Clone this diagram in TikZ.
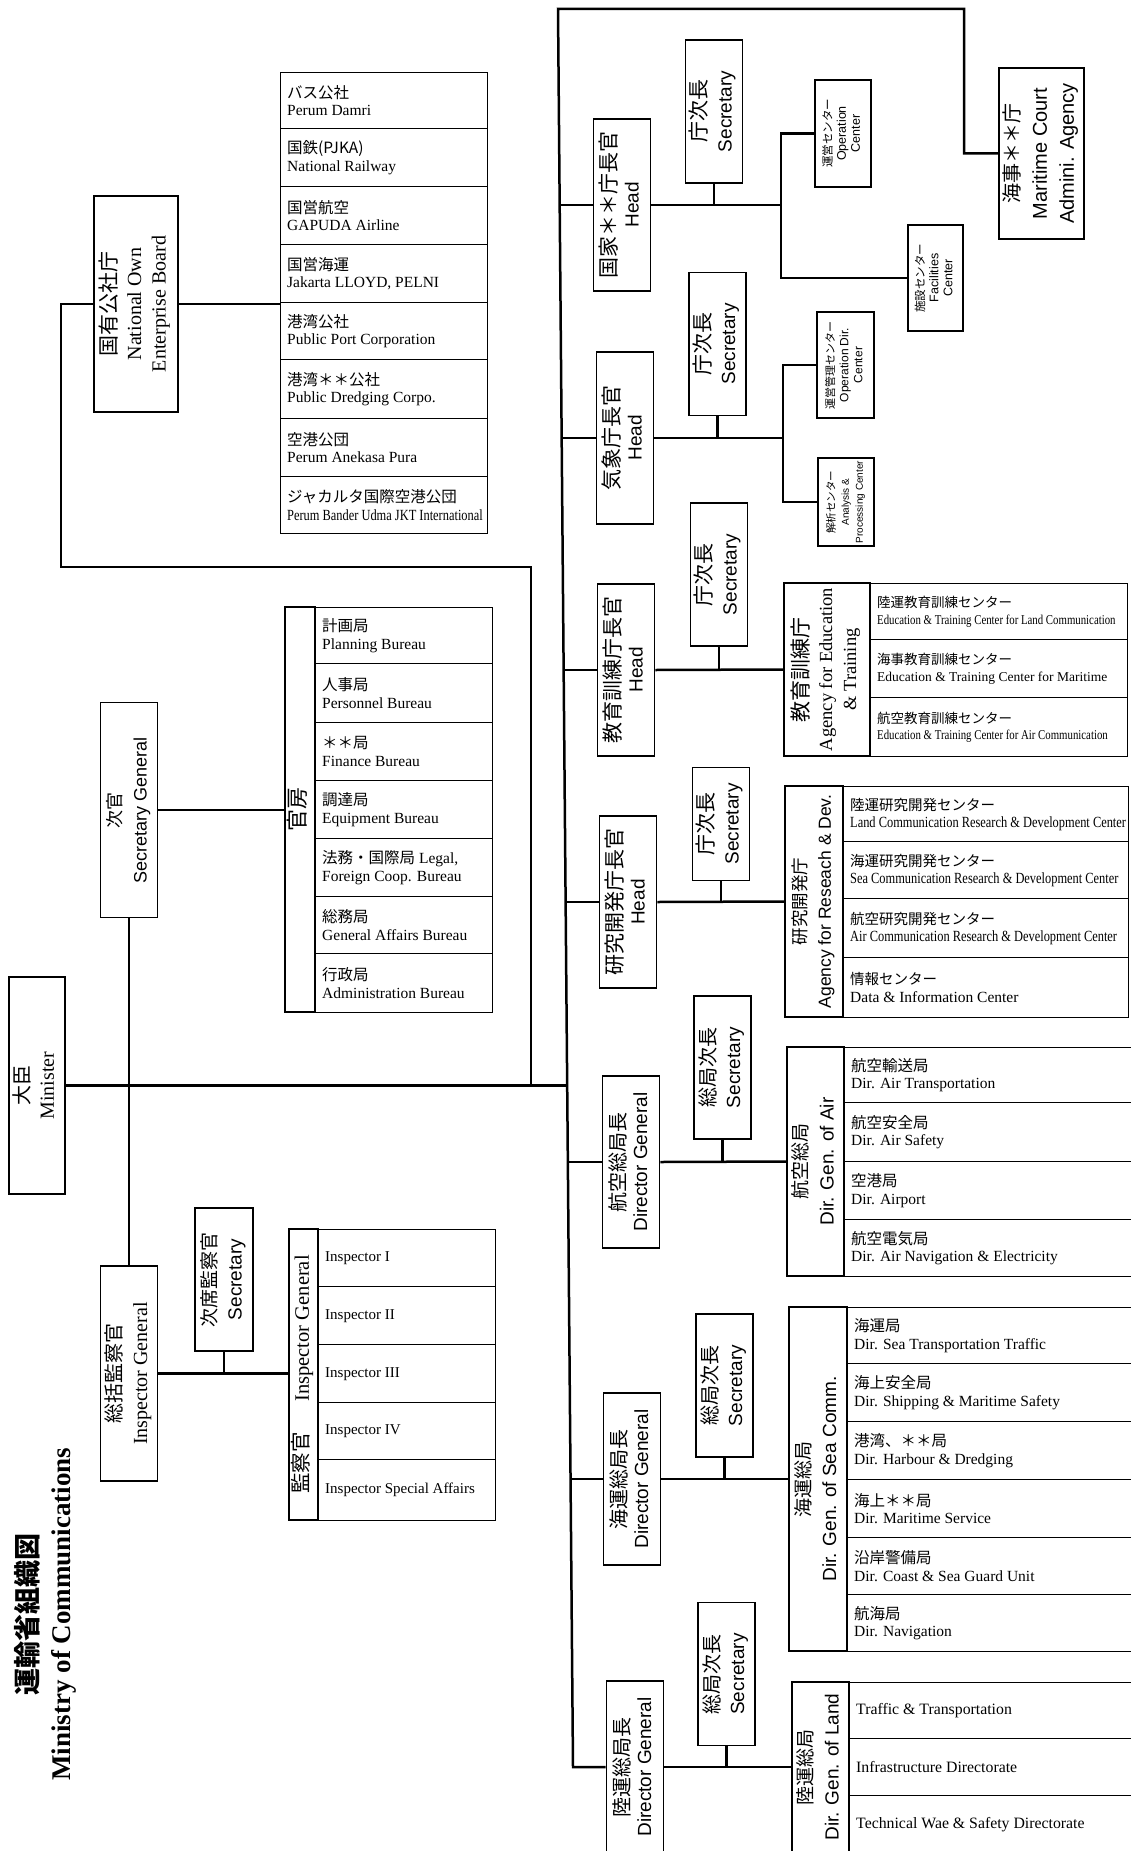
\documentclass[tikz,border=0pt]{standalone}
\usepackage{fontspec}
\usepackage{graphicx}
\setmainfont{Liberation Serif}
\setsansfont{Liberation Sans}
\newfontfamily\jp{Noto Sans CJK JP}
\newfontfamily\cond{Liberation Serif}[FakeStretch=0.8]
\newcommand{\fsz}[2]{\fontsize{#1}{#2}\selectfont}
\newcommand{\rtx}[2]{\rotatebox{90}{#1\begin{tabular}{@{}c@{}}#2\end{tabular}}}
\newcommand{\rowbox}[5]{\node[rw, minimum width=#4, minimum height=#5] (#1) at (#2,#3) {};}
\newcommand{\rowtxt}[3]{\node[rt, font=#2] (#1t) at ([xshift=7pt]#1.west) {#3};}
\newcommand{\lf}{\fsz{15.5}{17.5}}
\tikzset{
 bx/.style={draw, line width=1.8pt, inner sep=0pt},
 rw/.style={draw, line width=1.4pt, inner sep=0pt, anchor=north west},
 rt/.style={inner sep=0pt, anchor=west, align=left},
 conn/.style={line width=2.5pt},
 hd/.style={bx, minimum width=57, minimum height=172},
 sc/.style={bx, minimum width=57, minimum height=143},
}
\begin{document}
\begin{tikzpicture}[x=1pt,y=-1pt]
\fill[white] (0,0) rectangle (1130,1851);
\useasboundingbox (0,0) rectangle (1130,1851);

% ---------- title
\node[inner sep=0pt] (title) at (47,1614) {\rtx{\fsz{27}{33}\bfseries}{{\jp 運輸省組織図}\\Ministry of Communications}};

% ---------- left part
\node[bx, minimum width=84, minimum height=216] (noeb) at (136,304) {\rtx{\fsz{20}{24.5}}{{\jp\fsz{21}{24.5}国有公社庁}\\National Own\\Enterprise Board}};
\rowbox{L1}{280}{72}{207}{56}
\rowbox{L2}{280}{128}{207}{58}
\rowbox{L3}{280}{186}{207}{58}
\rowbox{L4}{280}{244}{207}{58}
\rowbox{L5}{280}{302}{207}{57}
\rowbox{L6}{280}{359}{207}{59}
\rowbox{L7}{280}{418}{207}{58}
\rowbox{L8}{280}{476}{207}{57}
\rowtxt{L1}{\lf}{{\jp バス公社}\\Perum Damri}
\rowtxt{L2}{\lf}{{\jp 国鉄(PJKA)}\\National Railway}
\rowtxt{L3}{\lf}{{\jp 国営航空}\\GAPUDA Airline}
\rowtxt{L4}{\lf}{{\jp 国営海運}\\Jakarta LLOYD, PELNI}
\rowtxt{L5}{\lf}{{\jp 港湾公社}\\Public Port Corporation}
\rowtxt{L6}{\lf}{{\jp 港湾＊＊公社}\\Public Dredging Corpo.}
\rowtxt{L7}{\lf}{{\jp 空港公団}\\Perum Anekasa Pura}
\rowtxt{L8}{\lf}{{\jp ジャカルタ国際空港公団}\\{\cond Perum Bander Udma JKT International}}

\node[bx, minimum width=57, minimum height=215] (sg) at (129,810) {\rtx{\fsz{18}{25}\sffamily}{{\jp 次官}\\Secretary General}};
\node[bx, minimum width=30, minimum height=405] (bl) at (300,809.5) {\rtx{\fsz{22}{24}}{\jp 官房}};
\rowbox{B1}{315}{607}{177}{56}
\rowbox{B2}{315}{663}{177}{59}
\rowbox{B3}{315}{722}{177}{58}
\rowbox{B4}{315}{780}{177}{58}
\rowbox{B5}{315}{838}{177}{58}
\rowbox{B6}{315}{896}{177}{57}
\rowbox{B7}{315}{953}{177}{59}
\rowtxt{B1}{\lf}{{\jp 計画局}\\Planning Bureau}
\rowtxt{B2}{\lf}{{\jp 人事局}\\Personnel Bureau}
\rowtxt{B3}{\lf}{{\jp ＊＊局}\\Finance Bureau}
\rowtxt{B4}{\lf}{{\jp 調達局}\\Equipment Bureau}
\rowtxt{B5}{\lf}{{\jp 法務・国際局} Legal,\\Foreign Coop. Bureau}
\rowtxt{B6}{\lf}{{\jp 総務局}\\General Affairs Bureau}
\rowtxt{B7}{\lf}{{\jp 行政局}\\Administration Bureau}

\node[bx, minimum width=56, minimum height=217] (min) at (37,1085.5) {\rtx{\fsz{20}{24}}{{\jp 大臣}\\Minister}};
\node[bx, minimum width=57, minimum height=215] (ig) at (129,1373.5) {\rtx{\fsz{20}{26}}{{\jp 総括監察官}\\Inspector General}};
\node[bx, minimum width=58, minimum height=143] (sig) at (224,1279.5) {\rtx{\fsz{19}{25}\sffamily}{{\jp 次席監察官}\\Secretary}};
\node[bx, minimum width=29, minimum height=291] (il) at (303.5,1374.5) {\rtx{\fsz{20.5}{22}}{{\jp 監察官}\hspace{1.5em}Inspector General}};
\rowbox{I1}{318}{1229}{177}{57}
\rowbox{I2}{318}{1286}{177}{58}
\rowbox{I3}{318}{1344}{177}{58}
\rowbox{I4}{318}{1402}{177}{57}
\rowbox{I5}{318}{1459}{177}{61}
\rowtxt{I1}{\fsz{15}{17}}{Inspector I}
\rowtxt{I2}{\fsz{15}{17}}{Inspector II}
\rowtxt{I3}{\fsz{15}{17}}{Inspector III}
\rowtxt{I4}{\fsz{15}{17}}{Inspector IV}
\rowtxt{I5}{\fsz{15}{17}}{Inspector Special Affairs}

% ---------- right part: heads
\node[hd] (h1) at (622,205) {\rtx{\fsz{19}{22}\sffamily}{{\jp\fsz{21}{22}国家＊＊庁長官}\\Head}};
\node[hd] (h2) at (625,438) {\rtx{\fsz{19}{22}\sffamily}{{\jp\fsz{21}{22}気象庁長官}\\Head}};
\node[hd] (h3) at (626,670) {\rtx{\fsz{19}{22}\sffamily}{{\jp\fsz{21}{22}教育訓練庁長官}\\Head}};
\node[hd] (h4) at (628,902) {\rtx{\fsz{19}{22}\sffamily}{{\jp\fsz{21}{22}研究開発庁長官}\\Head}};
\node[hd] (h5) at (631,1162) {\rtx{\fsz{19}{22}\sffamily}{{\jp\fsz{20}{22}航空総局長}\\Director General}};
\node[hd] (h6) at (632,1479) {\rtx{\fsz{19}{22}\sffamily}{{\jp\fsz{20}{22}海運総局長}\\Director General}};
\node[hd] (h7) at (635,1767) {\rtx{\fsz{19}{22}\sffamily}{{\jp\fsz{20}{22}陸運総局長}\\Director General}};

% secretaries
\node[sc] (s1) at (714,111.5) {\rtx{\fsz{19}{25}\sffamily}{{\jp\fsz{21}{25}庁次長}\\Secretary}};
\node[sc] (s2) at (717.5,344) {\rtx{\fsz{19}{25}\sffamily}{{\jp\fsz{21}{25}庁次長}\\Secretary}};
\node[sc] (s3) at (719,574.5) {\rtx{\fsz{19}{25}\sffamily}{{\jp\fsz{21}{25}庁次長}\\Secretary}};
\node[sc, minimum height=113] (s4) at (721,824) {\rtx{\fsz{19}{25}\sffamily}{{\jp\fsz{21}{25}庁次長}\\Secretary}};
\node[sc] (s5) at (722.5,1067.5) {\rtx{\fsz{19}{25}\sffamily}{{\jp\fsz{20}{25}総局次長}\\Secretary}};
\node[sc] (s6) at (724.5,1385.5) {\rtx{\fsz{19}{25}\sffamily}{{\jp\fsz{20}{25}総局次長}\\Secretary}};
\node[sc] (s7) at (726.5,1674) {\rtx{\fsz{19}{25}\sffamily}{{\jp\fsz{20}{25}総局次長}\\Secretary}};

% small centers
\node[bx, minimum width=56, minimum height=107] (op1) at (843,133.5) {\rtx{\fsz{12.5}{14}\sffamily}{{\jp\fsz{11.5}{14}運営センター}\\Operation\\Center}};
\node[bx, minimum width=55, minimum height=106] (fc1) at (935.5,278) {\rtx{\fsz{12.5}{14}\sffamily}{{\jp\fsz{11.5}{14}施設センター}\\Facilities\\Center}};
\node[bx, minimum width=57, minimum height=106] (od2) at (845.5,365) {\rtx{\fsz{12}{14}\sffamily}{{\jp\fsz{11}{14}運営管理センター}\\Operation Dir.\\Center}};
\node[bx, minimum width=56, minimum height=88] (an2) at (846,502) {\rtx{\fsz{10}{14}\sffamily}{{\jp\fsz{10.5}{14}解析センター}\\Analysis \&\\Processing Center}};
\node[bx, minimum width=85, minimum height=171] (mar) at (1041.5,153.5) {\rtx{\fsz{20}{27}\sffamily}{{\jp 海事＊＊庁}\\Maritime Court\\Admini. Agency}};

% education
\node[bx, minimum width=86, minimum height=173] (ed) at (827,669.5) {\rtx{\fsz{18.5}{24}}{{\jp\fsz{21}{24}教育訓練庁}\\Agency for Education\\\& Training}};
\rowbox{E1}{870}{583}{257}{56}
\rowbox{E2}{870}{639}{257}{58}
\rowbox{E3}{870}{697}{257}{59}
\rowtxt{E1}{\fsz{13.5}{16.5}}{{\jp 陸運教育訓練センター}\\{\cond Education \& Training Center for Land Communication}}
\rowtxt{E2}{\fsz{13.5}{16.5}}{{\jp 海事教育訓練センター}\\Education \& Training Center for Maritime}
\rowtxt{E3}{\fsz{13.5}{16.5}}{{\jp 航空教育訓練センター}\\{\cond Education \& Training Center for Air Communication}}

% research
\node[bx, minimum width=58, minimum height=231] (rd) at (814,901.5) {\rtx{\fsz{17.5}{24}\sffamily}{{\jp 研究開発庁}\\Agency for Reseach \& Dev.}};
\rowbox{R1}{843}{786}{285}{55}
\rowbox{R2}{843}{841}{285}{57}
\rowbox{R3}{843}{898}{285}{59}
\rowbox{R4}{843}{957}{285}{60}
\rowtxt{R1}{\fsz{15.5}{17}}{{\jp\fsz{14.5}{17}陸運研究開発センター}\\{\cond Land Communication Research \& Development Center}}
\rowtxt{R2}{\fsz{15.5}{17}}{{\jp\fsz{14.5}{17}海運研究開発センター}\\{\cond Sea Communication Research \& Development Center}}
\rowtxt{R3}{\fsz{15.5}{17}}{{\jp\fsz{14.5}{17}航空研究開発センター}\\{\cond Air Communication Research \& Development Center}}
\rowtxt{R4}{\lf}{{\jp\fsz{14.5}{17}情報センター}\\Data \& Information Center}

% air
\node[bx, minimum width=57, minimum height=229] (ai) at (815.5,1161.5) {\rtx{\fsz{19}{26}\sffamily}{{\jp 航空総局}\\Dir. Gen. of Air}};
\rowbox{A1}{844}{1047}{292}{55}
\rowbox{A2}{844}{1102}{292}{59}
\rowbox{A3}{844}{1161}{292}{58}
\rowbox{A4}{844}{1219}{292}{57}
\rowtxt{A1}{\lf}{{\jp 航空輸送局}\\Dir. Air Transportation}
\rowtxt{A2}{\lf}{{\jp 航空安全局}\\Dir. Air Safety}
\rowtxt{A3}{\lf}{{\jp 空港局}\\Dir. Airport}
\rowtxt{A4}{\lf}{{\jp 航空電気局}\\Dir. Air Navigation \& Electricity}

% sea
\node[bx, minimum width=58, minimum height=344] (se) at (818,1479) {\rtx{\fsz{19}{26}\sffamily}{{\jp 海運総局}\\Dir. Gen. of Sea Comm.}};
\rowbox{S1}{847}{1307}{289}{56}
\rowbox{S2}{847}{1363}{289}{58}
\rowbox{S3}{847}{1421}{289}{58}
\rowbox{S4}{847}{1479}{289}{58}
\rowbox{S5}{847}{1537}{289}{57}
\rowbox{S6}{847}{1594}{289}{57}
\rowtxt{S1}{\lf}{{\jp 海運局}\\Dir. Sea Transportation Traffic}
\rowtxt{S2}{\lf}{{\jp 海上安全局}\\Dir. Shipping \& Maritime Safety}
\rowtxt{S3}{\lf}{{\jp 港湾、＊＊局}\\Dir. Harbour \& Dredging}
\rowtxt{S4}{\lf}{{\jp 海上＊＊局}\\Dir. Maritime Service}
\rowtxt{S5}{\lf}{{\jp 沿岸警備局}\\Dir. Coast \& Sea Guard Unit}
\rowtxt{S6}{\lf}{{\jp 航海局}\\Dir. Navigation}

% land
\node[bx, minimum width=57, minimum height=170] (la) at (820.5,1767) {\rtx{\fsz{19}{26}\sffamily}{{\jp 陸運総局}\\Dir. Gen. of Land}};
\rowbox{D1}{849}{1682}{287}{56}
\rowbox{D2}{849}{1738}{287}{57}
\rowbox{D3}{849}{1795}{287}{57}
\rowtxt{D1}{\fsz{15.8}{17}}{Traffic \& Transportation}
\rowtxt{D2}{\fsz{15.8}{17}}{Infrastructure Directorate}
\rowtxt{D3}{\fsz{15.8}{17}}{Technical Wae \& Safety Directorate}

% ---------- connectors
\coordinate (tt) at (558,9);
\coordinate (mt) at (964,9);
\coordinate (tb) at (573,1767);
\coordinate (j1) at (559.7,205);
\coordinate (j2) at (561.7,438);
\coordinate (j3) at (563.6,670);
\coordinate (j4) at (565.6,902);
\coordinate (j5) at (567.8,1162);
\coordinate (j6) at (570.5,1479);
\coordinate (jm) at (567.2,1085.5);
\coordinate (b1) at (781,205);
\coordinate (b2) at (783,438);
\coordinate (nj) at (531,1085.5);
\coordinate (nk) at (61,567);

\draw[conn] (h7.west) -- (tb) -- (tt) -- (mt) |- (mar.west);
\foreach \i in {1,...,6} {\draw[conn] (j\i) -- (h\i.west);}
\draw[conn] (min.east) -- (jm);
\draw[conn] (nj) |- (nk) |- (noeb.west);
\draw[conn] (noeb.east) -- (noeb.east -| L5.west);
\draw[conn] (h1.east) -- (b1);
\draw[conn] (op1.west) -| (b1);
\draw[conn] (fc1.west) -| (b1);
\draw[conn] (h2.east) -- (b2);
\draw[conn] (od2.west) -| (b2);
\draw[conn] (an2.west) -| (b2);
\draw[conn] (h3.east) -- (ed.west);
\draw[conn] (h4.east) -- (rd.west);
\draw[conn] (h5.east) -- (ai.west);
\draw[conn] (h6.east) -- (se.west);
\draw[conn] (h7.east) -- (la.west);
\foreach \i in {1,...,7} {\draw[conn] (s\i.south) -- (s\i.south |- h\i.east);}
\draw[conn] (sg.south) -- (ig.north);
\draw[conn] (sg.east) -- (sg.east -| bl.west);
\draw[conn] (ig.east) -- (ig.east -| il.west);
\draw[conn] (sig.south) -- (sig.south |- ig.east);
\end{tikzpicture}
\end{document}
